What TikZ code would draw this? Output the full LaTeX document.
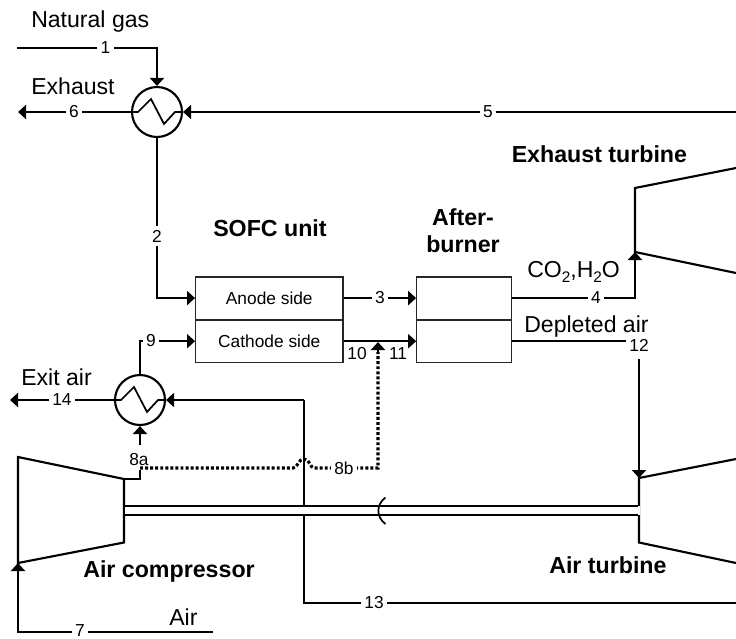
\documentclass[tikz,border=0pt]{standalone}
\usepackage{fontspec}
\setmainfont{Liberation Sans}
\usetikzlibrary{arrows.meta}
\tikzset{
  flow/.style={line width=1.6pt,-{Triangle[width=10.5pt,length=6pt]}},
  pipe/.style={line width=1.6pt},
  dotflow/.style={line width=2.3pt,dash pattern=on 2.2pt off 1.6pt},
  dothead/.style={line width=1.6pt,-{Triangle[width=10.5pt,length=6pt]}},
  thinbox/.style={draw=black!85,line width=0.9pt,minimum width=110.5pt,minimum height=31.8pt,inner sep=0pt,font=\fontsize{13}{15}\selectfont},
  burnerbox/.style={draw=black!85,line width=0.9pt,minimum width=71.2pt,minimum height=31.8pt,inner sep=0pt},
  hx/.style={circle,draw,line width=1.6pt,minimum size=37.5pt,inner sep=0pt},
  num/.style={fill=white,inner xsep=2.6pt,inner ysep=0pt,font=\fontsize{13}{15}\selectfont},
  numv/.style={num,inner ysep=3pt},
  numfree/.style={inner sep=0pt,font=\fontsize{13}{15}\selectfont},
  big/.style={anchor=base west,inner sep=0pt,font=\fontsize{17.3}{20}\selectfont},
  bold/.style={anchor=base west,inner sep=0pt,font=\fontsize{17.4}{20}\selectfont\bfseries},
  machine/.style={line width=1.6pt,line join=miter}
}
\newcommand{\lowered}[1]{\raisebox{-4pt}{\fontsize{11.5}{12}\selectfont #1}}
\begin{document}
\begin{tikzpicture}[x=0.75pt,y=-0.75pt]
\useasboundingbox (0,0) rectangle (736,639);

% heat exchangers
\node[hx] (hxa) at (157,112) {};
\node[hx] (hxb) at (140,400) {};
\foreach \c in {hxa,hxb}{
  \draw[line width=1.3pt,line join=miter] ([xshift=-19.5pt]\c.center) -- ++(7,0) -- ++(13,-13) -- ++(13,25) -- ++(11,-12) -- ++(8,0);
}

% boxes
\node[thinbox] (anode) at (269.3,298.1) {Anode side};
\node[thinbox] (cathode) at (269.3,341.2) {Cathode side};
\node[burnerbox] (burna) at (464.2,298.1) {};
\node[burnerbox] (burnb) at (464.2,341.2) {};

% free ends and corners
\coordinate (gasin) at (17,48);
\coordinate (gascorner) at (157,48);
\coordinate (exhout) at (18,112);
\coordinate (fiveend) at (736,112);
\coordinate (twocorner) at (157,298.1);
\coordinate (ninecorner) at (140,341.2);
\coordinate (exitout) at (10,400);
\coordinate (hotcorner) at (304,400);
\coordinate (thirteencorner) at (304,603);
\coordinate (thirteenend) at (736,603);
\coordinate (fourcorner) at (635,298.1);
\coordinate (extin) at (635,252);
\coordinate (twelveend) at (626,341.2);
\coordinate (twelvestart) at (639,359);
\coordinate (atin) at (639,478);
\coordinate (compout) at (124,479);
\coordinate (sa) at (140,479);
\coordinate (sb) at (140,470);
\coordinate (eightastart) at (140,445);
\coordinate (dotstart) at (140,468);
\coordinate (jumpa) at (293,468);
\coordinate (jumpb) at (314,468);
\coordinate (dotcorner) at (378,468);
\coordinate (dottip) at (378,342);
\coordinate (dotneck) at (378,352);
\coordinate (compin) at (18,563);
\coordinate (aircorner) at (18,632);
\coordinate (airend) at (213,632);

% machines
\draw[machine] (18,457) -- (124,479) -- (124,542.5) -- (18,563) -- cycle;
\draw[machine] (736,168) -- (635,188) -- (extin) -- (736,273);
\draw[machine] (736,459) -- (atin) -- (639,542.5) -- (736,563);

% pipes
\draw[flow] (gasin) -- (gascorner) -- (hxa.north);
\node[num] (n1) at (105.5,48) {1};
\draw[flow] (hxa.west) -- (exhout);
\node[num] (n6) at (74,112) {6};
\draw[flow] (fiveend) -- (hxa.east);
\node[num] (n5) at (488,112) {5};
\draw[flow] (hxa.south) -- (twocorner) -- (anode.west);
\node[numv] (n2) at (157,236) {2};
\draw[flow] (anode.east) -- (burna.west);
\node[num] (n3) at (380,298) {3};
\draw[flow] (cathode.east) -- (burnb.west);
\node[numfree] (n10) at (357,354) {10};
\node[numfree] (n11) at (398,354) {11};
\draw[flow] (hxb.north) -- (ninecorner) -- (cathode.west);
\node[num] (n9) at (151,341) {9};
\draw[flow] (hxb.west) -- (exitout);
\node[num] (n14) at (62,400) {14};
\draw[pipe] (thirteenend) -- (thirteencorner) -- (hotcorner);
\draw[flow] (hotcorner) -- (hxb.east);
\node[num] (n13) at (374,603) {13};
\draw[flow] (burna.east) -- (fourcorner) -- (extin);
\node[num] (n4) at (596,298) {4};
\draw[pipe] (burnb.east) -- (twelveend);
\node[numfree] (n12) at (639,345) {12};
\draw[flow] (twelvestart) -- (atin);
\draw[pipe] (compout) -- (sa) -- (sb);
\draw[flow] (eightastart) -- (hxb.south);
\node[numfree] (n8a) at (139,460) {8a};
\draw[dotflow] (dotstart) -- (jumpa) .. controls (298,468) and (298,459) .. (304,459) .. controls (310,459) and (310,468) .. (jumpb) -- (dotcorner) -- (dotneck);
\draw[dothead] (dotneck) -- (dottip);
\node[num] (n8b) at (344,468) {8b};
\draw[flow] (airend) -- (aircorner) -- (compin);
\node[num] (n7) at (80,630.5) {7};

% shaft
\fill[white] (124.8,506) rectangle (639.8,515);
\draw[line width=1.2pt] (124,506) -- (638,506);
\draw[line width=1.9pt] (124,515) -- (638,515);
\draw[line width=1.3pt] (385.3,497.5) .. controls (376,505) and (376,517) .. (385.5,524);

% labels
\node[big] (tgas) at (31,27) {Natural gas};
\node[big] (texh) at (31,94) {Exhaust};
\node[big] (texit) at (21,385.7) {Exit air};
\node[big] (tair) at (169,625) {Air};
\node[big] (tdep) at (524,332) {Depleted air};
\node[big] (tco) at (527,277) {CO\lowered{2},H\lowered{2}O};
\node[bold] (tet) at (511.5,162) {Exhaust turbine};
\node[bold] (tsofc) at (213,236) {SOFC unit};
\node[bold,anchor=base] (taft) at (463,225) {After-};
\node[bold,anchor=base] (tbur) at (463,252) {burner};
\node[bold] (tac) at (83,577) {Air compressor};
\node[bold] (tat) at (549,573) {Air turbine};
\end{tikzpicture}
\end{document}
